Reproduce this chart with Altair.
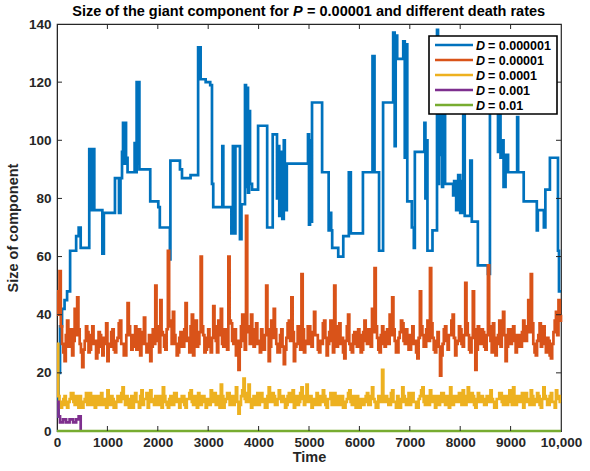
import altair as alt
import pandas as pd

FONT = "Liberation Sans"

labels = ["D = 0.000001", "D = 0.00001", "D = 0.0001", "D = 0.001", "D = 0.01"]
legend_nums = ["= 0.000001", "= 0.00001", "= 0.0001", "= 0.001", "= 0.01"]
colors = ["#0072BD", "#D95319", "#EDB120", "#7E2F8E", "#77AC30"]
title_parts = ["Size of the giant component for", "P", "= 0.00001 and different death rates"]

x_ticks = [0, 1000, 2000, 3000, 4000, 5000, 6000, 7000, 8000, 9000, 10000]
y_ticks = [0, 20, 40, 60, 80, 100, 120, 140]

# D = 0.000001 (step change points)
blue_t = [0, 30, 60, 100, 150, 200, 260, 330, 380, 430, 470,
          640, 660, 680, 700, 720, 740,
          900, 930, 1150, 1230, 1260, 1290, 1310, 1330, 1350, 1370, 1400, 1540, 1560, 1580, 1600, 1615, 1635,
          1850, 2010, 2040, 2240, 2250, 2440, 2480, 2650, 2780,
          2800, 2820, 2835, 2850, 2950, 3040, 3075, 3100,
          3280, 3300, 3460, 3490, 3510, 3540, 3620, 3630, 3660,
          3730, 3750, 3770, 3790, 3810, 3830, 3870,
          3990, 4170, 4280, 4365, 4390, 4410, 4440, 4470, 4500, 4520, 4560, 4960,
          4980, 5000, 5020, 5040, 5060, 5260, 5390, 5420, 5440, 5460, 5580, 5680, 5790, 5830, 6070,
          6260, 6300, 6390, 6470, 6670, 6700, 6720, 6750, 6870, 6900, 6930, 6950, 7040, 7080, 7100,
          7290, 7310, 7330, 7350, 7450,
          7540, 7560, 7580, 7600, 7620, 7640, 7660, 7700,
          7860, 7880, 7920, 7960, 8000, 8040, 8060, 8090, 8200, 8230, 8350, 8550, 8590, 8750, 8780, 8800, 8830, 8860, 8900, 8950,
          9130, 9150, 9260, 9520, 9540, 9660, 9690, 9780, 9940, 9960, 10000]
blue_v = [5, 20, 36, 42, 45, 48, 62, 62, 67, 70, 63,
          97, 76, 97, 76, 97, 76,
          61, 75, 87, 75, 87, 96, 106, 92, 106, 94, 89, 99, 89, 120, 92, 120, 90,
          79, 77, 70, 59, 93, 90, 87, 88, 88,
          132, 121, 132, 121, 120, 119, 85, 77,
          98, 77, 68, 98, 68, 98, 98, 66, 78,
          119, 84, 118, 82, 110, 85, 83,
          105, 70, 102, 80, 98, 74, 96, 73, 100, 76, 92, 92,
          102, 71, 100, 72, 113, 89, 69, 75, 69, 63, 60, 67, 89, 68, 89,
          129, 89, 62, 113, 137, 98, 136, 128, 134, 94, 133, 79, 70, 63, 96,
          106, 80, 100, 62, 69,
          138, 85, 130, 95, 125, 84, 120, 85,
          81, 86, 76, 88, 75, 86, 115, 74, 93, 72, 57, 54, 112, 96, 118, 94, 100, 84, 95, 89,
          108, 89, 79, 69, 76, 70, 83, 94, 62, 48, 48]

# D = 0.00001, one value every 25 time units
orange_v = [48, 40, 55, 36, 30, 27, 24, 33, 38, 29, 30, 35, 26, 31, 42, 33, 46, 35, 30, 27,
            22, 28, 31, 36, 34, 27, 28, 33, 36, 30, 31, 25, 27, 34, 33, 29, 26, 32, 30, 37,
            24, 30, 29, 34, 35, 28, 27, 31, 32, 37, 38, 30, 30, 26, 26, 33, 44, 36, 33, 28,
            29, 33, 36, 28, 31, 35, 26, 30, 34, 39, 30, 27, 28, 33, 24, 29, 35, 30, 50, 36,
            31, 27, 45, 34, 33, 29, 28, 35, 62, 38, 36, 30, 41, 33, 30, 26, 27, 32, 34, 29,
            29, 35, 44, 31, 32, 27, 36, 40, 26, 31, 38, 29, 30, 34, 60, 36, 33, 27, 28, 32,
            35, 29, 27, 32, 43, 36, 31, 27, 38, 33, 42, 30, 29, 35, 33, 28, 60, 38, 37, 31,
            30, 35, 26, 31, 21, 29, 36, 40, 31, 28, 74, 36, 34, 30, 40, 33, 29, 35, 37, 30,
            31, 27, 35, 30, 28, 33, 50, 35, 24, 29, 38, 32, 42, 35, 30, 27, 27, 33, 35, 29,
            23, 28, 32, 37, 38, 31, 46, 34, 24, 29, 30, 36, 33, 28, 54, 35, 27, 31, 30, 36,
            36, 30, 29, 34, 41, 33, 33, 28, 27, 31, 30, 37, 38, 32, 26, 30, 34, 38, 31, 27,
            50, 36, 29, 33, 37, 30, 32, 27, 25, 31, 36, 40, 30, 28, 27, 33, 34, 30, 29, 35,
            33, 27, 28, 34, 38, 31, 30, 35, 35, 29, 42, 34, 56, 36, 32, 28, 27, 33, 36, 30,
            29, 34, 35, 30, 40, 33, 46, 35, 31, 27, 27, 32, 34, 38, 37, 31, 30, 35, 33, 28,
            28, 33, 36, 30, 31, 27, 25, 32, 48, 36, 33, 29, 29, 35, 38, 31, 56, 37, 32, 28,
            27, 31, 34, 29, 19, 26, 30, 35, 36, 31, 28, 33, 33, 38, 40, 32, 26, 30, 31, 36,
            35, 30, 29, 33, 51, 37, 33, 28, 27, 32, 48, 35, 21, 28, 36, 31, 30, 35, 34, 29,
            28, 33, 57, 36, 31, 27, 37, 32, 26, 30, 33, 38, 29, 34, 41, 33, 24, 29, 35, 31,
            30, 35, 36, 31, 27, 33, 33, 29, 29, 34, 38, 31, 31, 36, 45, 34, 54, 37, 30, 27,
            26, 31, 33, 37, 29, 35, 36, 30, 27, 32, 31, 26, 25, 30, 34, 38, 41, 33, 45, 38,
            40]

# D = 0.0001, one value every 25 time units
yellow_v = [30, 12, 10, 8, 9, 11, 12, 9, 8, 10, 11, 13, 13, 10, 9, 12, 10, 8, 12, 10,
            8, 10, 11, 13, 9, 11, 13, 9, 10, 12, 8, 11, 12, 9, 10, 13, 9, 11, 11, 8,
            14, 11, 9, 12, 11, 8, 8, 10, 12, 10, 10, 13, 15, 11, 9, 12, 11, 8, 10, 12,
            8, 11, 13, 10, 10, 8, 12, 14, 9, 11, 11, 13, 8, 10, 14, 11, 10, 9, 12, 10,
            9, 12, 11, 8, 15, 12, 10, 9, 8, 11, 12, 9, 9, 13, 13, 10, 11, 8, 10, 12,
            12, 9, 8, 11, 11, 13, 14, 10, 9, 12, 10, 8, 13, 11, 9, 12, 12, 10, 8, 11,
            11, 9, 14, 11, 10, 13, 9, 11, 12, 8, 16, 12, 8, 10, 11, 13, 13, 9, 10, 12,
            9, 11, 15, 10, 6, 9, 12, 14, 18, 11, 10, 13, 16, 10, 8, 11, 12, 9, 10, 13,
            9, 12, 13, 10, 11, 8, 8, 12, 15, 10, 10, 13, 12, 9, 9, 11, 14, 11, 10, 12,
            11, 8, 9, 12, 13, 10, 10, 14, 8, 11, 12, 9, 10, 13, 15, 11, 9, 12, 16, 10,
            10, 12, 8, 11, 11, 9, 13, 10, 9, 12, 10, 14, 12, 9, 8, 11, 11, 13, 9, 10,
            13, 9, 10, 12, 9, 11, 12, 8, 8, 10, 11, 13, 14, 10, 9, 12, 10, 8, 12, 11,
            8, 11, 11, 9, 10, 12, 13, 9, 9, 12, 15, 11, 10, 8, 8, 12, 12, 10, 21, 11,
            10, 12, 11, 9, 9, 13, 14, 10, 10, 8, 12, 11, 8, 10, 15, 12, 10, 9, 11, 13,
            9, 12, 13, 10, 10, 8, 8, 11, 12, 14, 15, 10, 9, 12, 11, 9, 14, 11, 10, 12,
            8, 11, 12, 9, 10, 13, 13, 10, 9, 12, 11, 8, 15, 11, 9, 12, 12, 10, 10, 13,
            11, 9, 14, 12, 9, 11, 15, 10, 10, 13, 12, 9, 8, 11, 13, 10, 10, 12, 11, 9,
            9, 12, 12, 10, 14, 11, 10, 8, 8, 11, 11, 13, 13, 10, 9, 12, 12, 9, 10, 14,
            11, 9, 15, 12, 9, 11, 12, 10, 10, 13, 8, 11, 13, 10, 11, 9, 14, 12, 9, 11,
            10, 13, 12, 9, 8, 11, 15, 12, 11, 9, 9, 12, 13, 10, 10, 8, 14, 11, 12, 10,
            10]

# D = 0.001
purple_t = [0, 30, 60, 120, 180, 250, 320, 380, 430, 470]
purple_v = [10, 5, 3, 4, 3, 4, 3, 4, 5, 0]

# D = 0.01
green_t = [0, 10000]
green_v = [0, 0]


def grid(n):
    return [round(i * 10000 / (n - 1), 3) for i in range(n)]


rows = []
for t, v in zip(blue_t, blue_v):
    rows.append({"t": t, "v": v, "series": labels[0]})
for t, v in zip(grid(len(orange_v)), orange_v):
    rows.append({"t": t, "v": v, "series": labels[1]})
for t, v in zip(grid(len(yellow_v)), yellow_v):
    rows.append({"t": t, "v": v, "series": labels[2]})
for t, v in zip(purple_t, purple_v):
    rows.append({"t": t, "v": v, "series": labels[3]})
for t, v in zip(green_t, green_v):
    rows.append({"t": t, "v": v, "series": labels[4]})
df = pd.DataFrame(rows)

W, H = 504, 407
INK = "#262626"
xs = alt.Scale(domain=[0, 10000], nice=False, zero=False)
ys = alt.Scale(domain=[0, 140], nice=False)

x_axis = alt.Axis(
    values=x_ticks, title="Time",
    labelExpr="datum.value == 10000 ? '10,000' : '' + datum.value",
    tickSize=0, labelPadding=4, titlePadding=2,
    labelFont=FONT, labelFontSize=13.5, labelFontWeight="bold", labelColor=INK,
    titleFont=FONT, titleFontSize=14.5, titleFontWeight="bold", titleColor=INK,
    domainColor=INK, grid=False, labelFlush=False, labelOverlap=False)
y_axis = alt.Axis(
    values=y_ticks, title="Size of component",
    tickSize=0, labelPadding=6, titlePadding=8,
    labelFont=FONT, labelFontSize=13.5, labelFontWeight="bold", labelColor=INK,
    titleFont=FONT, titleFontSize=14.5, titleFontWeight="bold", titleColor=INK,
    domainColor=INK, grid=False, labelFlush=False)

lines = alt.Chart(df).mark_line(interpolate="step-after", strokeWidth=2.7).encode(
    x=alt.X("t:Q", scale=xs, axis=x_axis),
    y=alt.Y("v:Q", scale=ys, axis=y_axis),
    color=alt.Color("series:N", scale=alt.Scale(domain=labels, range=colors), legend=None),
)

xt = pd.DataFrame({"t": x_ticks[1:-1]})
yt = pd.DataFrame({"v": y_ticks[1:-1]})
tick_style = dict(color=INK, strokeWidth=1)
bottom_ticks = alt.Chart(xt).mark_rule(**tick_style).encode(
    x=alt.X("t:Q", scale=xs, axis=x_axis), y=alt.value(H), y2=alt.value(H - 5))
top_ticks = alt.Chart(xt).mark_rule(**tick_style).encode(
    x=alt.X("t:Q", scale=xs, axis=x_axis), y=alt.value(0), y2=alt.value(5))
left_ticks = alt.Chart(yt).mark_rule(**tick_style).encode(
    y=alt.Y("v:Q", scale=ys, axis=y_axis), x=alt.value(0), x2=alt.value(5))
right_ticks = alt.Chart(yt).mark_rule(**tick_style).encode(
    y=alt.Y("v:Q", scale=ys, axis=y_axis), x=alt.value(W), x2=alt.value(W - 5))

# legend box (guide)
one = pd.DataFrame({"k": [0]})
legend_layers = [
    alt.Chart(one).mark_rect(fill="white", stroke="black", strokeWidth=1.6).encode(
        x=alt.value(372), x2=alt.value(500), y=alt.value(12), y2=alt.value(90))
]
for i, (lab, num, col) in enumerate(zip(labels, legend_nums, colors)):
    yc = 21 + 15 * i
    legend_layers.append(alt.Chart(one).mark_rule(color=col, strokeWidth=2.7).encode(
        x=alt.value(378), x2=alt.value(416), y=alt.value(yc)))
    legend_layers.append(alt.Chart(one).mark_text(
        text="D", font=FONT, fontSize=12.5, fontWeight="bold", fontStyle="italic",
        align="left", baseline="middle", color="black").encode(x=alt.value(419), y=alt.value(yc + 0.5)))
    legend_layers.append(alt.Chart(one).mark_text(
        text=num, font=FONT, fontSize=12.5, fontWeight="bold",
        align="left", baseline="middle", color="black").encode(x=alt.value(431), y=alt.value(yc + 0.5)))

# title pieces (so that P is italic)
TY = -12
TFS = 14.5
title_layers = [
    alt.Chart(one).mark_text(text=title_parts[0], font=FONT, fontSize=TFS, fontWeight="bold",
                             align="right", baseline="middle", color="black").encode(
        x=alt.value(232), y=alt.value(TY)),
    alt.Chart(one).mark_text(text=title_parts[1], font=FONT, fontSize=TFS, fontWeight="bold",
                             fontStyle="italic", align="left", baseline="middle", color="black").encode(
        x=alt.value(236), y=alt.value(TY)),
    alt.Chart(one).mark_text(text=title_parts[2], font=FONT, fontSize=TFS, fontWeight="bold",
                             align="left", baseline="middle", color="black").encode(
        x=alt.value(250), y=alt.value(TY)),
]

chart = alt.layer(lines, bottom_ticks, top_ticks, left_ticks, right_ticks,
                  *legend_layers, *title_layers).properties(
    width=W, height=H,
    autosize=alt.AutoSizeParams(type="none"),
    padding={"left": 57, "top": 24, "right": 29, "bottom": 40},
).configure_view(stroke=INK, strokeWidth=1.2)

chart.save("out.html", embed_options={"renderer": "svg", "actions": False})
